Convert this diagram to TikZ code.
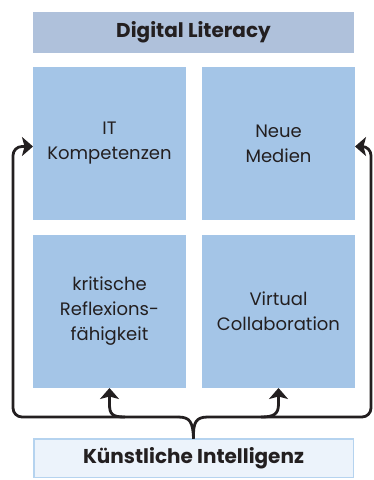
\documentclass[tikz,border=0pt]{standalone}
\usepackage{fontspec}
\setmainfont{Poppins}
\usetikzlibrary{arrows.meta}
\definecolor{hdr}{HTML}{AFC1DB}
\definecolor{cell}{HTML}{A4C5E7}
\definecolor{kifill}{HTML}{ECF3FB}
\definecolor{kiline}{HTML}{B5D3EF}
\definecolor{ink}{HTML}{231F20}
\tikzset{
  cellbox/.style={fill=cell, draw=none, minimum width=153pt, minimum height=153pt, anchor=north west, outer sep=0pt, inner sep=2pt, align=center, text=ink, font=\fontsize{18}{25}\selectfont},
  hdrbox/.style={fill=hdr, draw=none, minimum width=321pt, minimum height=41pt, anchor=north west, outer sep=0pt, text=ink, font=\fontsize{20}{24}\selectfont\bfseries},
  kibox/.style={fill=kifill, draw=kiline, line width=1.5pt, minimum width=319.5pt, minimum height=38.5pt, anchor=north west, outer sep=0pt, text=ink, font=\fontsize{20}{24}\selectfont\bfseries},
  conn/.style={draw=ink, line width=2.8pt},
  tip/.style={-{Stealth[length=11pt, width=19pt, inset=2.5pt]}}
}
\begin{document}
\begin{tikzpicture}[x=1pt, y=-1pt]
\useasboundingbox (0,0) rectangle (374,480);
\node[hdrbox] (hdr) at (33,12) {Digital Literacy};
\node[cellbox] (it) at (33,67) {IT\\Kompetenzen};
\node[cellbox] (nm) at (202,67) {Neue\\Medien};
\node[cellbox] (kr) at (33,235) {kritische\\Reflexions-\\fähigkeit};
\node[cellbox] (vc) at (202,235) {Virtual\\Collaboration};
\node[kibox] (ki) at (33.75,438.75) {Künstliche Intelligenz};
% brace tip
\coordinate (bl) at (178,417);
\coordinate (br) at (208,417);
\draw[conn] (ki.north) .. controls (193,422) and (190,417) .. (bl);
\draw[conn] (ki.north) .. controls (193,422) and (196,417) .. (br);
% outer arms
\draw[conn, tip, rounded corners=9pt] (bl) -- (13,417) -- (13,146.5) -- (it.west |- 0,146.5);
\draw[conn, tip, rounded corners=9pt] (br) -- (371,417) -- (371,146.5) -- (nm.east |- 0,146.5);
% inner arrows
\coordinate (la) at (125,417);
\coordinate (ra) at (261,417);
\draw[conn] (bl) -- (la);
\draw[conn] (br) -- (ra);
\draw[conn, tip] (la) .. controls (112,417) and (109.5,414) .. (109.5,404) -- (kr.south);
\draw[conn, tip] (ra) .. controls (274,417) and (278.5,414) .. (278.5,404) -- (vc.south);
\end{tikzpicture}
\end{document}
